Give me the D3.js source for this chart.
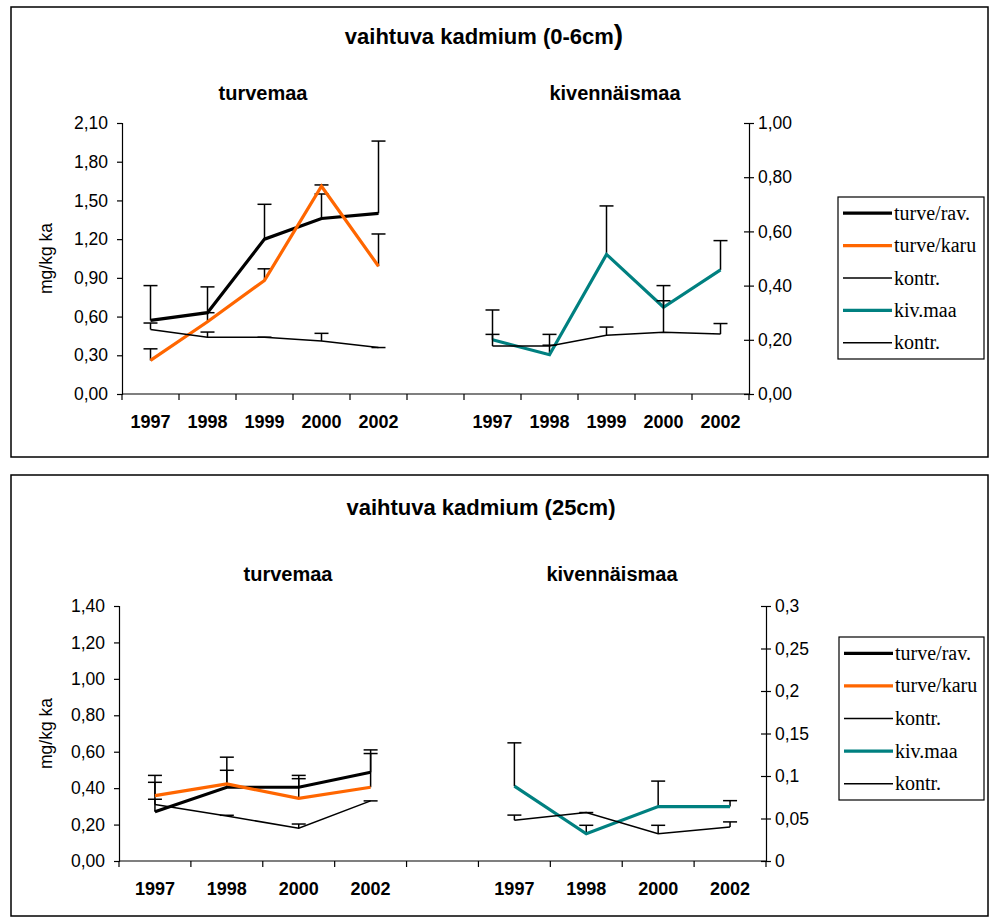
<!DOCTYPE html>
<html lang="fi">
<head>
<meta charset="UTF-8">
<title>vaihtuva kadmium</title>
<script src="https://cdnjs.cloudflare.com/ajax/libs/d3/7.8.5/d3.min.js"></script>
<style>
  body { margin: 0; background: #fff; }
  svg { display: block; }
</style>
</head>
<body>
<div id="chart"></div>
<script>
// vuodet (kategoriat)
const yearsTop = ['1997', '1998', '1999', '2000', '2002'];
const yearsBottom = ['1997', '1998', '2000', '2002'];

// 0-6cm, turvemaa (vasen akseli)
const topRav = [0.57, 0.63, 1.20, 1.36, 1.40];
const topRavErr = [0.84, 0.83, 1.47, 1.55, 1.96];
const topKaru = [0.26, 0.56, 0.88, 1.61, 0.99];
const topKaruErr = [0.35, 0.63, 0.97, 1.62, 1.24];
const topKontrT = [0.50, 0.44, 0.44, 0.41, 0.36];
const topKontrTErr = [0.55, 0.48, 0.44, 0.47, 0.36];
// 0-6cm, kivennäismaa (oikea akseli)
const topKiv = [0.20, 0.145, 0.515, 0.32, 0.458];
const topKivErr = [0.31, 0.22, 0.694, 0.40, 0.566];
const topKontrK = [0.177, 0.177, 0.217, 0.228, 0.221];
const topKontrKErr = [0.22, 0.18, 0.247, 0.344, 0.26];

// 25cm, turvemaa
const botRav = [0.27, 0.405, 0.405, 0.487];
const botRavErr = [0.47, 0.57, 0.47, 0.61];
const botKaru = [0.359, 0.423, 0.344, 0.405];
const botKaruErr = [0.432, 0.498, 0.452, 0.59];
const botKontrT = [0.31, 0.247, 0.18, 0.33];
const botKontrTErr = [0.339, 0.251, 0.203, 0.33];
// 25cm, kivennäismaa
const botKiv = [0.088, 0.032, 0.064, 0.064];
const botKivErr = [0.139, 0.042, 0.094, 0.071];
const botKontrK = [0.048, 0.057, 0.032, 0.040];
const botKontrKErr = [0.054, 0.057, 0.042, 0.046];

// akselien jaot
const topLeftTicks = [0, 0.3, 0.6, 0.9, 1.2, 1.5, 1.8, 2.1];
const topRightTicks = [0, 0.2, 0.4, 0.6, 0.8, 1.0];
const botLeftTicks = [0, 0.2, 0.4, 0.6, 0.8, 1.0, 1.2, 1.4];
const botRightTicks = [0, 0.05, 0.1, 0.15, 0.2, 0.25, 0.3];

const legendNames = ['turve/rav.', 'turve/karu', 'kontr.', 'kiv.maa', 'kontr.'];

const BLACK = '#000000';
const ORANGE = '#ff6600';
const TEAL = '#008080';

const svg = d3.select('#chart').append('svg')
  .attr('width', 991)
  .attr('height', 920);

const comma = d => d3.format('.2f')(d).replace('.', ',');
const commaShort = d => String(d).replace('.', ',');

function drawChart(o) {
  const g = svg.append('g');

  // kehys
  g.append('rect')
    .attr('x', o.box[0]).attr('y', o.box[1])
    .attr('width', o.box[2] - o.box[0]).attr('height', o.box[3] - o.box[1])
    .attr('fill', 'none').attr('stroke', '#000').attr('stroke-width', 1.5);

  // otsikot
  const title = g.append('text')
    .attr('x', o.titleX).attr('y', o.titleY)
    .attr('text-anchor', 'middle')
    .style('font', 'bold 22px "Liberation Sans", Arial, sans-serif')
    .text(o.title);
  if (o.bigParen) {
    title.append('tspan').style('font-size', '28px').text(')');
  }
  o.panelTitles.forEach(p => {
    g.append('text')
      .attr('x', p[1]).attr('y', o.panelY)
      .attr('text-anchor', 'middle')
      .style('font', 'bold 20px "Liberation Sans", Arial, sans-serif')
      .text(p[0]);
  });

  // kategoriat: turvemaa, tyhjä, kivennäismaa
  const n = o.years.length;
  const cats = d3.range(2 * n + 1);
  const labels = o.years.concat([''], o.years);
  const x = d3.scaleBand().domain(cats).range([o.x0, o.x1]).padding(0);
  const yL = d3.scaleLinear().domain(o.leftDomain).range([o.y0, o.y1]);
  const yR = d3.scaleLinear().domain(o.rightDomain).range([o.y0, o.y1]);

  // y-akselit
  const axL = g.append('g').attr('transform', `translate(${o.x0},0)`)
    .call(d3.axisLeft(yL).tickValues(o.leftTicks).tickFormat(comma).tickSize(5).tickPadding(9));
  const axR = g.append('g').attr('transform', `translate(${o.x1},0)`)
    .call(d3.axisRight(yR).tickValues(o.rightTicks).tickFormat(o.rightFormat).tickSize(5).tickPadding(4));
  [axL, axR].forEach(a => {
    a.select('.domain').attr('stroke', '#000').attr('stroke-width', 1.2);
    a.selectAll('.tick line').attr('stroke', '#000').attr('stroke-width', 1.2);
    a.selectAll('.tick text')
      .style('font', '17.5px "Liberation Sans", Arial, sans-serif')
      .attr('fill', '#000');
  });
  // oikean akselin jakoviivat myös vasemmalle
  axR.selectAll('.tick').append('line').attr('x2', -5).attr('stroke', '#000').attr('stroke-width', 1.2);

  // x-akseli
  const ax = g.append('g');
  ax.append('line')
    .attr('x1', o.x0).attr('x2', o.x1)
    .attr('y1', o.y0).attr('y2', o.y0)
    .attr('stroke', '#000').attr('stroke-width', 1.2);
  ax.selectAll('.xt').data(d3.range(cats.length + 1)).join('line')
    .attr('x1', i => o.x0 + i * x.step()).attr('x2', i => o.x0 + i * x.step())
    .attr('y1', o.y0).attr('y2', o.y0 + 6)
    .attr('stroke', '#000').attr('stroke-width', 1.2);
  ax.selectAll('.xl').data(cats).join('text')
    .attr('x', i => x(i) + x.bandwidth() / 2)
    .attr('y', o.y0 + 34)
    .attr('text-anchor', 'middle')
    .style('font', 'bold 18px "Liberation Sans", Arial, sans-serif')
    .text(i => labels[i]);

  // y-akselin nimi
  g.append('text')
    .attr('transform', `translate(${o.labelX},${(o.y0 + o.y1) / 2}) rotate(-90)`)
    .attr('text-anchor', 'middle')
    .style('font', '17.5px "Liberation Sans", Arial, sans-serif')
    .text('mg/kg ka');

  // sarjat
  const cx = (i, off) => x(i + off) + x.bandwidth() / 2;
  function series(vals, errs, y, off, color, w) {
    // virhepalkit
    vals.forEach((v, i) => {
      const px = cx(i, off);
      g.append('line')
        .attr('x1', px).attr('x2', px)
        .attr('y1', y(v)).attr('y2', y(errs[i]))
        .attr('stroke', '#000').attr('stroke-width', 1.5);
      g.append('line')
        .attr('x1', px - 7).attr('x2', px + 7)
        .attr('y1', y(errs[i])).attr('y2', y(errs[i]))
        .attr('stroke', '#000').attr('stroke-width', 1.5);
    });
    const line = d3.line().x((d, i) => cx(i, off)).y(d => y(d));
    g.append('path').datum(vals)
      .attr('d', line)
      .attr('fill', 'none')
      .attr('stroke', color)
      .attr('stroke-width', w)
      .attr('stroke-linejoin', 'miter');
  }
  o.series.forEach(s => series(s.vals, s.errs, s.right ? yR : yL, s.right ? n + 1 : 0, s.color, s.w));

  // selite
  const lg = g.append('g');
  lg.append('rect')
    .attr('x', o.legend[0]).attr('y', o.legend[1])
    .attr('width', o.legend[2] - o.legend[0]).attr('height', o.legend[3] - o.legend[1])
    .attr('fill', '#fff').attr('stroke', '#000').attr('stroke-width', 1.2);
  const step = (o.legend[3] - o.legend[1]) / legendNames.length;
  const items = lg.selectAll('.li').data(o.series).join('g')
    .attr('transform', (d, i) => `translate(${o.legend[0]},${o.legend[1] + step * (i + 0.5)})`);
  items.append('line')
    .attr('x1', 5).attr('x2', 54)
    .attr('stroke', d => d.color)
    .attr('stroke-width', d => d.w);
  items.append('text')
    .attr('x', 56).attr('y', 6.5)
    .style('font', '20px "Liberation Serif", "Times New Roman", serif')
    .text((d, i) => legendNames[i]);
}

drawChart({
  box: [11, 7, 988, 457],
  title: 'vaihtuva kadmium (0-6cm', bigParen: true,
  titleX: 484, titleY: 44,
  panelTitles: [['turvemaa', 263], ['kivennäismaa', 615]],
  panelY: 100,
  years: yearsTop,
  x0: 122, x1: 749, y0: 394, y1: 123,
  leftDomain: [0, 2.1], rightDomain: [0, 1.0],
  leftTicks: topLeftTicks, rightTicks: topRightTicks,
  rightFormat: comma,
  labelX: 52,
  legend: [838, 197, 984, 359],
  series: [
    { vals: topRav, errs: topRavErr, color: BLACK, w: 3.2 },
    { vals: topKaru, errs: topKaruErr, color: ORANGE, w: 3.2 },
    { vals: topKontrT, errs: topKontrTErr, color: BLACK, w: 1.5 },
    { vals: topKiv, errs: topKivErr, color: TEAL, w: 3.2, right: true },
    { vals: topKontrK, errs: topKontrKErr, color: BLACK, w: 1.5, right: true }
  ]
});

drawChart({
  box: [11, 475, 988, 916],
  title: 'vaihtuva kadmium (25cm)', bigParen: false,
  titleX: 481, titleY: 515,
  panelTitles: [['turvemaa', 288], ['kivennäismaa', 612]],
  panelY: 581,
  years: yearsBottom,
  x0: 119, x1: 766, y0: 861, y1: 606,
  leftDomain: [0, 1.4], rightDomain: [0, 0.3],
  leftTicks: botLeftTicks, rightTicks: botRightTicks,
  rightFormat: commaShort,
  labelX: 52,
  legend: [839, 637, 984, 800],
  series: [
    { vals: botRav, errs: botRavErr, color: BLACK, w: 3.2 },
    { vals: botKaru, errs: botKaruErr, color: ORANGE, w: 3.2 },
    { vals: botKontrT, errs: botKontrTErr, color: BLACK, w: 1.5 },
    { vals: botKiv, errs: botKivErr, color: TEAL, w: 3.2, right: true },
    { vals: botKontrK, errs: botKontrKErr, color: BLACK, w: 1.5, right: true }
  ]
});
</script>
</body>
</html>
